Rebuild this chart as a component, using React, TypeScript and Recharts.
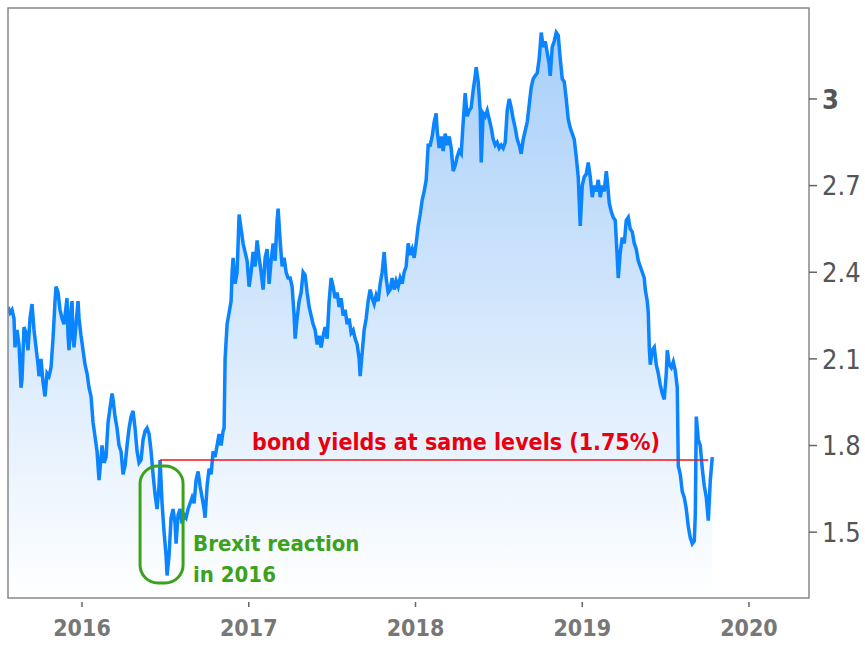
import { Area, AreaChart, ReferenceArea, ReferenceLine, XAxis, YAxis } from "recharts";

// US 10y yield (decimal year, yield %)
const points: [number, number][] = [
  [2015.556, 2.28], [2015.568, 2.26], [2015.58, 2.27], [2015.592, 2.24], [2015.598, 2.14],
  [2015.61, 2.2], [2015.622, 2.15], [2015.634, 2.0], [2015.64, 2.03], [2015.652, 2.21],
  [2015.664, 2.19], [2015.676, 2.13], [2015.688, 2.24], [2015.7, 2.29], [2015.712, 2.2],
  [2015.724, 2.14], [2015.736, 2.08], [2015.742, 2.04], [2015.754, 2.1], [2015.766, 2.02],
  [2015.778, 1.97], [2015.79, 2.05], [2015.802, 2.04], [2015.814, 2.07], [2015.826, 2.17],
  [2015.838, 2.3], [2015.844, 2.35], [2015.856, 2.33], [2015.868, 2.27], [2015.88, 2.24],
  [2015.892, 2.22], [2015.904, 2.28], [2015.91, 2.31], [2015.916, 2.18], [2015.922, 2.13],
  [2015.934, 2.27], [2015.94, 2.3], [2015.946, 2.17], [2015.952, 2.14], [2015.964, 2.22],
  [2015.976, 2.3], [2015.982, 2.24], [2015.994, 2.18], [2016.006, 2.13], [2016.018, 2.08],
  [2016.03, 2.05], [2016.042, 2.0], [2016.054, 1.97], [2016.066, 1.88], [2016.078, 1.83],
  [2016.09, 1.78], [2016.102, 1.68], [2016.108, 1.72], [2016.12, 1.8], [2016.132, 1.74],
  [2016.144, 1.76], [2016.156, 1.88], [2016.168, 1.93], [2016.18, 1.98], [2016.186, 1.96],
  [2016.198, 1.9], [2016.21, 1.86], [2016.222, 1.8], [2016.234, 1.78], [2016.246, 1.7],
  [2016.258, 1.73], [2016.27, 1.8], [2016.282, 1.86], [2016.294, 1.9], [2016.306, 1.92],
  [2016.318, 1.86], [2016.33, 1.78], [2016.342, 1.74], [2016.354, 1.75], [2016.366, 1.82],
  [2016.378, 1.85], [2016.39, 1.86], [2016.402, 1.84], [2016.414, 1.78], [2016.426, 1.7],
  [2016.438, 1.63], [2016.45, 1.58], [2016.462, 1.66], [2016.468, 1.75], [2016.48, 1.6],
  [2016.492, 1.5], [2016.504, 1.42], [2016.51, 1.35], [2016.522, 1.42], [2016.534, 1.55],
  [2016.546, 1.58], [2016.558, 1.53], [2016.564, 1.46], [2016.576, 1.56], [2016.588, 1.58],
  [2016.6, 1.53], [2016.612, 1.56], [2016.624, 1.55], [2016.636, 1.58], [2016.648, 1.6],
  [2016.66, 1.62], [2016.672, 1.6], [2016.684, 1.68], [2016.696, 1.71], [2016.708, 1.66],
  [2016.72, 1.62], [2016.732, 1.58], [2016.738, 1.55], [2016.75, 1.66], [2016.762, 1.72],
  [2016.774, 1.7], [2016.786, 1.78], [2016.798, 1.76], [2016.81, 1.8], [2016.822, 1.84],
  [2016.834, 1.8], [2016.846, 1.85], [2016.852, 1.86], [2016.858, 2.1], [2016.87, 2.22],
  [2016.882, 2.26], [2016.894, 2.3], [2016.9, 2.4], [2016.906, 2.45], [2016.918, 2.36],
  [2016.93, 2.4], [2016.942, 2.6], [2016.954, 2.55], [2016.966, 2.5], [2016.978, 2.47],
  [2016.99, 2.44], [2017.002, 2.35], [2017.014, 2.4], [2017.026, 2.47], [2017.038, 2.42],
  [2017.05, 2.51], [2017.062, 2.45], [2017.074, 2.4], [2017.086, 2.34], [2017.098, 2.45],
  [2017.11, 2.48], [2017.122, 2.36], [2017.134, 2.44], [2017.146, 2.5], [2017.158, 2.44],
  [2017.17, 2.58], [2017.176, 2.62], [2017.188, 2.51], [2017.2, 2.42], [2017.212, 2.45],
  [2017.224, 2.4], [2017.236, 2.38], [2017.248, 2.38], [2017.26, 2.35], [2017.272, 2.25],
  [2017.278, 2.17], [2017.29, 2.24], [2017.302, 2.3], [2017.314, 2.33], [2017.326, 2.4],
  [2017.338, 2.39], [2017.35, 2.33], [2017.362, 2.28], [2017.374, 2.25], [2017.386, 2.22],
  [2017.398, 2.2], [2017.41, 2.15], [2017.422, 2.18], [2017.434, 2.14], [2017.446, 2.18],
  [2017.458, 2.21], [2017.47, 2.17], [2017.482, 2.3], [2017.494, 2.38], [2017.506, 2.35],
  [2017.518, 2.31], [2017.53, 2.33], [2017.542, 2.28], [2017.554, 2.31], [2017.566, 2.25],
  [2017.578, 2.27], [2017.59, 2.22], [2017.602, 2.24], [2017.614, 2.19], [2017.626, 2.2],
  [2017.638, 2.17], [2017.65, 2.15], [2017.662, 2.1], [2017.668, 2.04], [2017.68, 2.12],
  [2017.692, 2.2], [2017.704, 2.24], [2017.716, 2.3], [2017.728, 2.34], [2017.74, 2.31],
  [2017.752, 2.29], [2017.764, 2.32], [2017.776, 2.3], [2017.788, 2.36], [2017.8, 2.4],
  [2017.812, 2.47], [2017.824, 2.38], [2017.836, 2.33], [2017.848, 2.34], [2017.86, 2.38],
  [2017.872, 2.34], [2017.884, 2.37], [2017.896, 2.35], [2017.908, 2.38], [2017.92, 2.36],
  [2017.932, 2.4], [2017.944, 2.42], [2017.956, 2.5], [2017.968, 2.46], [2017.98, 2.48],
  [2017.992, 2.45], [2018.004, 2.5], [2018.016, 2.56], [2018.028, 2.6], [2018.04, 2.65],
  [2018.052, 2.68], [2018.064, 2.72], [2018.076, 2.84], [2018.088, 2.84], [2018.1, 2.87],
  [2018.112, 2.92], [2018.124, 2.95], [2018.13, 2.89], [2018.142, 2.83], [2018.154, 2.87],
  [2018.166, 2.82], [2018.178, 2.88], [2018.19, 2.84], [2018.202, 2.87], [2018.214, 2.83],
  [2018.226, 2.75], [2018.238, 2.77], [2018.25, 2.8], [2018.262, 2.82], [2018.274, 2.81],
  [2018.286, 2.92], [2018.298, 3.02], [2018.31, 2.94], [2018.322, 2.96], [2018.334, 2.97],
  [2018.346, 3.03], [2018.358, 3.08], [2018.364, 3.11], [2018.376, 3.06], [2018.388, 2.96],
  [2018.394, 2.78], [2018.406, 2.95], [2018.418, 2.94], [2018.43, 2.96], [2018.442, 2.93],
  [2018.454, 2.9], [2018.466, 2.86], [2018.478, 2.84], [2018.49, 2.85], [2018.502, 2.83],
  [2018.514, 2.84], [2018.526, 2.83], [2018.538, 2.85], [2018.55, 2.96], [2018.562, 3.0],
  [2018.574, 2.97], [2018.586, 2.93], [2018.598, 2.9], [2018.61, 2.86], [2018.622, 2.84],
  [2018.634, 2.81], [2018.646, 2.86], [2018.658, 2.89], [2018.67, 2.92], [2018.682, 2.98],
  [2018.694, 3.04], [2018.706, 3.07], [2018.718, 3.08], [2018.73, 3.09], [2018.742, 3.14],
  [2018.754, 3.23], [2018.766, 3.18], [2018.778, 3.2], [2018.79, 3.16], [2018.802, 3.12],
  [2018.808, 3.08], [2018.82, 3.18], [2018.832, 3.2], [2018.844, 3.23], [2018.856, 3.22],
  [2018.868, 3.14], [2018.88, 3.07], [2018.892, 3.06], [2018.904, 3.0], [2018.916, 2.93],
  [2018.928, 2.9], [2018.94, 2.88], [2018.952, 2.86], [2018.964, 2.8], [2018.976, 2.73],
  [2018.988, 2.56], [2019.0, 2.7], [2019.012, 2.73], [2019.024, 2.74], [2019.036, 2.78],
  [2019.048, 2.73], [2019.06, 2.66], [2019.072, 2.7], [2019.084, 2.68], [2019.096, 2.72],
  [2019.108, 2.66], [2019.12, 2.7], [2019.132, 2.68], [2019.144, 2.75], [2019.15, 2.72],
  [2019.162, 2.64], [2019.174, 2.61], [2019.186, 2.59], [2019.198, 2.58], [2019.21, 2.45],
  [2019.216, 2.38], [2019.228, 2.47], [2019.24, 2.52], [2019.252, 2.5], [2019.264, 2.58],
  [2019.276, 2.59], [2019.288, 2.55], [2019.3, 2.54], [2019.312, 2.5], [2019.324, 2.48],
  [2019.336, 2.44], [2019.348, 2.42], [2019.36, 2.4], [2019.372, 2.38], [2019.378, 2.34],
  [2019.39, 2.3], [2019.396, 2.26], [2019.402, 2.14], [2019.408, 2.08], [2019.42, 2.13],
  [2019.432, 2.14], [2019.444, 2.08], [2019.456, 2.05], [2019.468, 2.01], [2019.48, 1.98],
  [2019.492, 1.96], [2019.504, 2.05], [2019.51, 2.13], [2019.522, 2.08], [2019.534, 2.07],
  [2019.546, 2.09], [2019.558, 2.06], [2019.57, 2.0], [2019.576, 1.73], [2019.588, 1.7],
  [2019.6, 1.64], [2019.612, 1.62], [2019.624, 1.58], [2019.636, 1.52], [2019.648, 1.48],
  [2019.66, 1.46], [2019.672, 1.47], [2019.678, 1.56], [2019.684, 1.9], [2019.696, 1.82],
  [2019.708, 1.8], [2019.72, 1.72], [2019.732, 1.66], [2019.744, 1.62], [2019.756, 1.54],
  [2019.768, 1.68], [2019.78, 1.76],
];

const yearTicks = [2016, 2017, 2018, 2019, 2020];
const yieldTicks = [1.5, 1.8, 2.1, 2.4, 2.7, 3];
const xDomain = [2015.556, 2020.36];
const yDomain = [1.272, 3.315];

// annotations
const sameLevel = 1.75;
const sameLevelFrom = 2016.468;
const sameLevelTo = 2019.756;
const sameLevelText = "bond yields at same levels (1.75%)";
const brexitBox = { x1: 2016.348, x2: 2016.606, y1: 1.324, y2: 1.729 };
const brexitText = ["Brexit reaction", "in 2016"];

const data = points.map(([t, y]) => ({ t, y }));

const FONT = "'DejaVu Sans Condensed', 'DejaVu Sans', sans-serif";
const RED = "#e8000f";
const GREEN = "#3ca21c";

function YearTick({ x, y, payload }: any) {
  return (
    <g>
      <line x1={x} x2={x} y1={y + 4} y2={y + 9} stroke="#666" strokeWidth={1.5} />
      <text
        x={x}
        y={y + 38}
        textAnchor="middle"
        fontFamily={FONT}
        fontStretch="condensed"
        fontWeight="bold"
        fontSize={23}
        fill="#777"
      >
        {payload.value}
      </text>
    </g>
  );
}

function YieldTick({ x, y, payload }: any) {
  return (
    <text
      x={x + 5}
      y={y}
      dy="0.36em"
      textAnchor="start"
      fontFamily={FONT}
      fontStretch="condensed"
      fontWeight={payload.value === 3 ? "bold" : "normal"}
      fontSize={27}
      fill="#555"
    >
      {payload.value}
    </text>
  );
}

export default function App() {
  return (
    <div style={{ width: 865, height: 648, background: "#fff" }}>
      <style>{`body { margin: 0; }`}</style>
      <AreaChart
        width={865}
        height={648}
        data={data}
        margin={{ top: 8, right: 0, left: 8, bottom: 0 }}
      >
        <defs>
          <linearGradient id="yieldGrad" x1="0" y1="0" x2="0" y2="1">
            <stop offset="0%" stopColor="#a8cff9" stopOpacity={1} />
            <stop offset="100%" stopColor="#ffffff" stopOpacity={1} />
          </linearGradient>
        </defs>
        <XAxis
          dataKey="t"
          type="number"
          domain={xDomain}
          ticks={yearTicks}
          allowDataOverflow
          axisLine={false}
          tickLine={false}
          tickSize={0}
          tickMargin={0}
          height={50}
          tick={<YearTick />}
        />
        <YAxis
          orientation="right"
          type="number"
          domain={yDomain}
          ticks={yieldTicks}
          allowDataOverflow
          axisLine={false}
          tickLine={{ stroke: "#666", strokeWidth: 1.5 }}
          tickSize={8}
          tickMargin={0}
          width={56}
          tick={<YieldTick />}
        />
        <Area
          type="linear"
          dataKey="y"
          stroke="#0a84ff"
          strokeWidth={3.5}
          fill="url(#yieldGrad)"
          fillOpacity={1}
          dot={false}
          activeDot={false}
          isAnimationActive={false}
        />
        <ReferenceLine
          segment={[
            { x: sameLevelFrom, y: sameLevel },
            { x: sameLevelTo, y: sameLevel },
          ]}
          stroke="#f0141e"
          strokeWidth={1.5}
          label={(p: any) => (
            <text
              x={p.viewBox.x + 92}
              y={p.viewBox.y - 10}
              fontFamily={FONT}
              fontStretch="condensed"
              fontWeight="bold"
              fontSize={23}
              fill={RED}
            >
              {sameLevelText}
            </text>
          )}
        />
        <ReferenceArea
          x1={brexitBox.x1}
          x2={brexitBox.x2}
          y1={brexitBox.y1}
          y2={brexitBox.y2}
          ifOverflow="visible"
          shape={(p: any) => (
            <g>
              <rect
                x={p.x}
                y={p.y}
                width={p.width}
                height={p.height}
                rx={18}
                ry={18}
                fill="none"
                stroke={GREEN}
                strokeWidth={3}
              />
              {brexitText.map((line, i) => (
                <text
                  key={line}
                  x={p.x + p.width + 10}
                  y={p.y + 85 + i * 31}
                  fontFamily={FONT}
                  fontStretch="condensed"
                  fontWeight="bold"
                  fontSize={22}
                  fill={GREEN}
                >
                  {line}
                </text>
              ))}
            </g>
          )}
        />
        <ReferenceArea
          x1={xDomain[0]}
          x2={xDomain[1]}
          y1={yDomain[0]}
          y2={yDomain[1]}
          ifOverflow="visible"
          fill="none"
          stroke="#888"
          strokeWidth={1.5}
        />
      </AreaChart>
    </div>
  );
}
